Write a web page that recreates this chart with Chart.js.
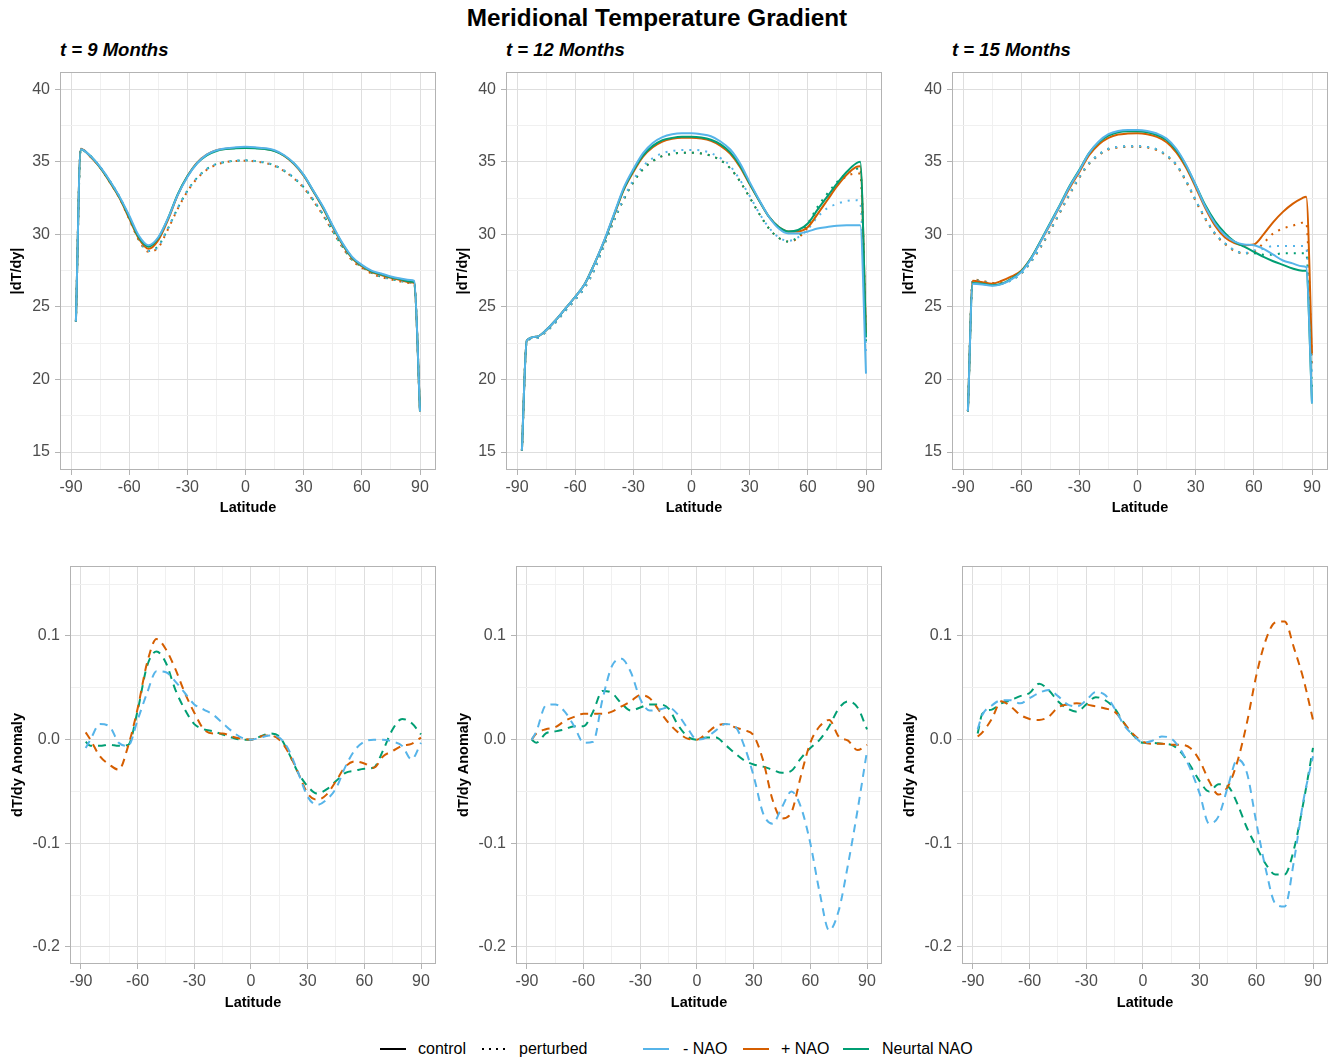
<!DOCTYPE html>
<html>
<head>
<meta charset="utf-8">
<title>Meridional Temperature Gradient</title>
<script src="https://cdn.jsdelivr.net/npm/chart.js@4.4.1/dist/chart.umd.min.js"></script>
<style>
  body { margin: 0; background: #fff; font-family: "Liberation Sans", Arial, Helvetica, sans-serif; }
  #page { position: relative; width: 1338px; height: 1061px; overflow: hidden; }
  canvas { position: absolute; }
  #title { position: absolute; left: 0; top: 0; width: 1314px; height: 36px; line-height: 36px;
           text-align: center; font-weight: bold; font-size: 24.3px; color: #000; }
  .sub { position: absolute; top: 38px; height: 24px; line-height: 24px; font-size: 18.5px;
         font-weight: bold; font-style: italic; color: #000; white-space: nowrap; }
  .key { position: absolute; top: 1044px; }
  .lab { position: absolute; top: 1039px; height: 20px; line-height: 20px; font-size: 16px; color: #000; white-space: nowrap; }
</style>
</head>
<body>
<div id="page">
  <div id="title">Meridional Temperature Gradient</div>
  <div class="sub" style="left:60px">t = 9 Months</div>
  <div class="sub" style="left:506px">t = 12 Months</div>
  <div class="sub" style="left:952px">t = 15 Months</div>

  <canvas id="top9"  width="446" height="470" style="left:0px;   top:60px"></canvas>
  <canvas id="top12" width="446" height="470" style="left:446px; top:60px"></canvas>
  <canvas id="top15" width="446" height="470" style="left:892px; top:60px"></canvas>
  <canvas id="bot9"  width="446" height="495" style="left:0px;   top:530px"></canvas>
  <canvas id="bot12" width="446" height="495" style="left:446px; top:530px"></canvas>
  <canvas id="bot15" width="446" height="495" style="left:892px; top:530px"></canvas>

  <svg class="key" style="left:380px" width="26" height="10"><line x1="0" y1="5" x2="26" y2="5" stroke="#000" stroke-width="2"/></svg>
  <div class="lab" style="left:418px">control</div>
  <svg class="key" style="left:482px" width="26" height="10"><line x1="0" y1="5" x2="26" y2="5" stroke="#000" stroke-width="2" stroke-dasharray="2 5"/></svg>
  <div class="lab" style="left:519px">perturbed</div>
  <svg class="key" style="left:643px" width="26" height="10"><line x1="0" y1="5" x2="26" y2="5" stroke="#56B4E9" stroke-width="2"/></svg>
  <div class="lab" style="left:683px">- NAO</div>
  <svg class="key" style="left:743px" width="26" height="10"><line x1="0" y1="5" x2="26" y2="5" stroke="#D55E00" stroke-width="2"/></svg>
  <div class="lab" style="left:781px">+ NAO</div>
  <svg class="key" style="left:843px" width="26" height="10"><line x1="0" y1="5" x2="26" y2="5" stroke="#009E73" stroke-width="2"/></svg>
  <div class="lab" style="left:882px">Neurtal NAO</div>
</div>

<script>
// latitudes
const latTop = [-87.5, -85, -80, -75, -70, -65, -60, -55, -50, -45, -40, -35, -30, -25, -20, -15, -10, -5, 0,
                5, 10, 15, 20, 25, 30, 35, 40, 45, 50, 55, 60, 65, 70, 75, 80, 85, 87, 90];
const latBottom = [-87.5, -85, -80, -75, -70, -65, -60, -55, -50, -45, -40, -35, -30, -25, -20, -15, -10, -5, 0,
                   5, 10, 15, 20, 25, 30, 35, 40, 45, 50, 55, 60, 65, 70, 75, 80, 85, 90];

// |dT/dy|, t = 9 months
const negCtl9 = [24.0, 35.87, 35.4, 34.65, 33.7, 32.6, 31.3, 29.9, 29.25, 29.8, 31.1, 32.7, 33.96, 34.9, 35.5, 35.8, 35.94, 36.0, 36.03, 36.0, 35.94, 35.8, 35.45, 34.9, 34.1, 33.0, 31.9, 30.6, 29.4, 28.45, 27.9, 27.5, 27.3, 27.1, 26.96, 26.85, 26.8, 17.8];
const posCtl9 = [24.0, 35.9, 35.35, 34.6, 33.6, 32.5, 31.1, 29.7, 29.0, 29.6, 31.0, 32.7, 34.0, 34.95, 35.5, 35.8, 35.9, 35.95, 35.97, 35.95, 35.9, 35.75, 35.4, 34.85, 34.05, 32.95, 31.8, 30.5, 29.3, 28.35, 27.8, 27.4, 27.2, 27.0, 26.85, 26.7, 26.65, 17.8];
const neuCtl9 = [24.0, 35.85, 35.4, 34.62, 33.65, 32.55, 31.2, 29.8, 29.15, 29.75, 31.1, 32.75, 34.0, 34.9, 35.45, 35.75, 35.88, 35.93, 35.95, 35.93, 35.88, 35.75, 35.42, 34.88, 34.08, 32.98, 31.85, 30.55, 29.35, 28.4, 27.85, 27.45, 27.25, 27.05, 26.9, 26.75, 26.7, 17.8];
const negPer9 = [24.0, 35.87, 35.4, 34.65, 33.7, 32.6, 31.2, 29.7, 28.85, 29.15, 30.45, 31.8, 33.0, 33.9, 34.5, 34.85, 35.0, 35.08, 35.1, 35.05, 34.95, 34.75, 34.4, 33.9, 33.3, 32.4, 31.4, 30.3, 29.2, 28.3, 27.8, 27.4, 27.1, 26.95, 26.8, 26.7, 26.65, 17.8];
const posPer9 = [24.0, 35.9, 35.35, 34.6, 33.6, 32.5, 31.05, 29.6, 28.8, 29.1, 30.35, 31.75, 32.95, 33.85, 34.45, 34.8, 34.98, 35.05, 35.08, 35.03, 34.93, 34.72, 34.35, 33.85, 33.2, 32.3, 31.3, 30.2, 29.1, 28.2, 27.7, 27.3, 27.05, 26.9, 26.75, 26.65, 26.6, 17.8];
const neuPer9 = [24.0, 35.85, 35.4, 34.62, 33.65, 32.55, 31.15, 29.65, 28.85, 29.2, 30.4, 31.8, 33.0, 33.9, 34.5, 34.85, 35.0, 35.07, 35.1, 35.05, 34.95, 34.75, 34.38, 33.88, 33.25, 32.35, 31.35, 30.25, 29.15, 28.25, 27.75, 27.35, 27.08, 26.92, 26.78, 26.68, 26.62, 17.8];

// |dT/dy|, t = 12 months
const negCtl12 = [15.1, 22.67, 22.94, 23.4, 24.1, 24.9, 25.7, 26.6, 28.0, 29.6, 31.4, 33.2, 34.5, 35.6, 36.3, 36.7, 36.9, 36.97, 36.97, 36.9, 36.76, 36.4, 35.85, 34.9, 33.6, 32.35, 31.2, 30.4, 30.06, 30.06, 30.2, 30.4, 30.5, 30.6, 30.63, 30.63, 30.63, 20.4];
const posCtl12 = [15.1, 22.67, 22.94, 23.4, 24.1, 24.9, 25.7, 26.6, 28.0, 29.55, 31.3, 33.05, 34.3, 35.35, 36.0, 36.4, 36.58, 36.65, 36.65, 36.6, 36.45, 36.1, 35.55, 34.65, 33.45, 32.3, 31.2, 30.5, 30.2, 30.2, 30.5, 31.4, 32.35, 33.3, 34.1, 34.65, 34.7, 23.2];
const neuCtl12 = [15.1, 22.67, 22.94, 23.4, 24.1, 24.9, 25.7, 26.6, 28.0, 29.55, 31.35, 33.1, 34.4, 35.45, 36.1, 36.5, 36.65, 36.72, 36.72, 36.67, 36.52, 36.2, 35.65, 34.75, 33.5, 32.3, 31.2, 30.5, 30.2, 30.3, 30.75, 31.7, 32.6, 33.5, 34.3, 34.9, 35.0, 22.9];
const negPer12 = [15.1, 22.6, 22.85, 23.3, 23.95, 24.75, 25.5, 26.35, 27.6, 29.3, 31.0, 32.5, 33.75, 34.7, 35.25, 35.6, 35.75, 35.82, 35.82, 35.78, 35.6, 35.25, 34.7, 33.75, 32.65, 31.45, 30.45, 29.8, 29.55, 29.8, 30.35, 31.2, 31.8, 32.1, 32.3, 32.35, 32.2, 21.8];
const posPer12 = [15.1, 22.6, 22.85, 23.3, 23.95, 24.75, 25.5, 26.35, 27.6, 29.3, 30.95, 32.4, 33.6, 34.5, 35.05, 35.4, 35.55, 35.62, 35.62, 35.58, 35.42, 35.1, 34.55, 33.65, 32.55, 31.4, 30.4, 29.75, 29.5, 29.75, 30.5, 31.7, 32.6, 33.4, 34.0, 34.2, 34.2, 23.0];
const neuPer12 = [15.1, 22.6, 22.85, 23.3, 23.95, 24.75, 25.5, 26.35, 27.6, 29.3, 30.95, 32.4, 33.6, 34.5, 35.05, 35.4, 35.55, 35.62, 35.62, 35.58, 35.42, 35.1, 34.55, 33.65, 32.55, 31.4, 30.4, 29.75, 29.5, 29.85, 30.75, 31.9, 32.8, 33.6, 34.2, 34.5, 34.6, 22.5];

// |dT/dy|, t = 15 months
const negCtl15 = [17.8, 26.6, 26.55, 26.45, 26.57, 26.9, 27.4, 28.3, 29.5, 30.75, 32.0, 33.3, 34.4, 35.6, 36.4, 36.9, 37.13, 37.2, 37.2, 37.13, 36.95, 36.6, 35.9, 34.8, 33.4, 31.9, 30.75, 29.95, 29.5, 29.3, 29.25, 29.0, 28.6, 28.2, 28.0, 27.8, 27.75, 18.35];
const posCtl15 = [17.8, 26.8, 26.7, 26.6, 26.8, 27.1, 27.5, 28.35, 29.5, 30.7, 31.95, 33.2, 34.3, 35.45, 36.2, 36.65, 36.88, 36.95, 36.97, 36.9, 36.72, 36.35, 35.65, 34.6, 33.25, 31.8, 30.6, 29.8, 29.4, 29.25, 29.3, 30.0, 30.85, 31.55, 32.1, 32.5, 32.6, 21.8];
const neuCtl15 = [17.8, 26.65, 26.6, 26.5, 26.6, 26.95, 27.45, 28.35, 29.55, 30.8, 32.05, 33.35, 34.45, 35.6, 36.35, 36.8, 37.03, 37.1, 37.1, 37.03, 36.85, 36.5, 35.8, 34.75, 33.4, 32.0, 30.9, 30.1, 29.5, 29.15, 28.8, 28.45, 28.15, 27.9, 27.65, 27.5, 27.5, 18.35];
const negPer15 = [17.8, 26.85, 26.75, 26.6, 26.6, 26.85, 27.3, 28.1, 29.15, 30.3, 31.55, 32.8, 33.96, 34.9, 35.5, 35.9, 36.03, 36.07, 36.07, 36.03, 35.85, 35.45, 34.8, 33.7, 32.35, 31.1, 30.06, 29.4, 28.9, 28.7, 28.9, 29.0, 29.2, 29.2, 29.2, 29.2, 29.1, 20.2];
const posPer15 = [17.8, 26.9, 26.8, 26.65, 26.65, 26.9, 27.3, 28.1, 29.1, 30.25, 31.5, 32.75, 33.9, 34.85, 35.45, 35.85, 35.98, 36.03, 36.03, 35.98, 35.8, 35.4, 34.75, 33.65, 32.3, 31.05, 30.0, 29.35, 28.85, 28.7, 28.8, 29.4, 30.06, 30.4, 30.6, 30.8, 30.8, 21.1];
const neuPer15 = [17.8, 26.85, 26.75, 26.6, 26.6, 26.85, 27.3, 28.1, 29.15, 30.3, 31.55, 32.8, 33.96, 34.9, 35.5, 35.9, 36.03, 36.07, 36.07, 36.03, 35.85, 35.45, 34.8, 33.7, 32.35, 31.1, 30.06, 29.4, 28.9, 28.7, 28.7, 28.6, 28.6, 28.7, 28.7, 28.7, 28.7, 19.3];

// dT/dy anomaly
const negAnom9 = [-0.008, 0.0, 0.015, 0.013, -0.003, -0.006, 0.019, 0.045, 0.066, 0.065, 0.056, 0.045, 0.034, 0.029, 0.024, 0.016, 0.008, 0.002, 0.0, 0.002, 0.004, 0.002, -0.01, -0.032, -0.055, -0.063, -0.058, -0.047, -0.026, -0.01, -0.002, 0.0, 0.0, -0.002, -0.006, -0.019, -0.003];
const posAnom9 = [0.007, 0.0, -0.016, -0.024, -0.029, -0.006, 0.03, 0.074, 0.097, 0.087, 0.068, 0.045, 0.026, 0.01, 0.006, 0.006, 0.003, 0.001, 0.0, 0.003, 0.004, 0.0, -0.013, -0.032, -0.052, -0.058, -0.053, -0.04, -0.026, -0.021, -0.023, -0.027, -0.016, -0.011, -0.006, -0.004, 0.002];
const neuAnom9 = [-0.002, -0.006, -0.006, -0.005, -0.006, -0.005, 0.028, 0.071, 0.085, 0.074, 0.048, 0.029, 0.015, 0.01, 0.008, 0.005, 0.002, 0.0, 0.0, 0.003, 0.006, 0.003, -0.013, -0.032, -0.045, -0.052, -0.048, -0.04, -0.032, -0.03, -0.028, -0.027, -0.01, 0.01, 0.02, 0.016, 0.005];

const negAnom12 = [0.0, 0.008, 0.033, 0.034, 0.027, 0.013, -0.003, -0.002, 0.039, 0.071, 0.078, 0.065, 0.039, 0.028, 0.029, 0.031, 0.024, 0.011, 0.0, 0.002, 0.009, 0.015, 0.013, -0.006, -0.035, -0.071, -0.081, -0.065, -0.05, -0.065, -0.1, -0.148, -0.184, -0.165, -0.12, -0.068, -0.011];
const posAnom12 = [0.0, 0.006, 0.01, 0.012, 0.018, 0.022, 0.025, 0.025, 0.025, 0.027, 0.032, 0.037, 0.043, 0.04, 0.028, 0.016, 0.007, 0.001, 0.0, 0.006, 0.013, 0.015, 0.012, 0.009, 0.004, -0.02, -0.058, -0.076, -0.07, -0.035, -0.003, 0.013, 0.019, 0.003, -0.001, -0.01, -0.005];
const neuAnom12 = [0.0, -0.003, 0.006, 0.008, 0.01, 0.013, 0.013, 0.027, 0.047, 0.045, 0.035, 0.028, 0.031, 0.034, 0.034, 0.03, 0.014, 0.003, 0.0, 0.002, 0.002, -0.005, -0.013, -0.02, -0.024, -0.026, -0.029, -0.032, -0.03, -0.018, -0.008, 0.0, 0.013, 0.03, 0.037, 0.031, 0.01];

const negAnom15 = [0.01, 0.024, 0.033, 0.038, 0.038, 0.035, 0.04, 0.045, 0.048, 0.042, 0.034, 0.032, 0.038, 0.046, 0.043, 0.03, 0.014, 0.004, -0.003, -0.001, 0.003, 0.001, -0.01, -0.028, -0.052, -0.081, -0.074, -0.045, -0.019, -0.032, -0.08, -0.125, -0.158, -0.161, -0.116, -0.058, -0.016];
const posAnom15 = [0.003, 0.007, 0.02, 0.037, 0.032, 0.024, 0.02, 0.019, 0.022, 0.031, 0.034, 0.035, 0.034, 0.032, 0.03, 0.027, 0.016, 0.005, -0.002, -0.004, -0.004, -0.005, -0.005, -0.008, -0.02, -0.04, -0.053, -0.045, -0.021, 0.016, 0.062, 0.096, 0.113, 0.114, 0.088, 0.058, 0.019];
const neuAnom15 = [0.006, 0.025, 0.029, 0.035, 0.038, 0.042, 0.045, 0.054, 0.048, 0.037, 0.03, 0.027, 0.034, 0.041, 0.038, 0.03, 0.016, 0.004, -0.003, -0.003, -0.004, -0.005, -0.012, -0.025, -0.04, -0.05, -0.043, -0.045, -0.062, -0.085, -0.103, -0.12, -0.13, -0.13, -0.105, -0.06, -0.008];

const NEG = "#56B4E9", POS = "#D55E00", NEU = "#009E73";

document.addEventListener("DOMContentLoaded", function () {
    Chart.defaults.font.family = '"Liberation Sans", Arial, Helvetica, sans-serif';

    // grey frame round each panel, like ggplot's theme_light
    const panelBorder = {
        id: "panelBorder",
        afterDraw(chart) {
            const a = chart.chartArea, c = chart.ctx;
            c.save();
            c.strokeStyle = "#B3B3B3";
            c.lineWidth = 1;
            c.strokeRect(Math.round(a.left) + 0.5, Math.round(a.top) + 0.5,
                         Math.round(a.right - a.left) - 1, Math.round(a.bottom - a.top) - 1);
            c.restore();
        }
    };

    function onStep(v, step) {
        const r = v / step;
        return Math.abs(r - Math.round(r)) < 1e-6;
    }

    function line(lat, values, color, style, order) {
        return {
            data: lat.map((x, i) => ({ x: x, y: values[i] })),
            borderColor: color,
            borderWidth: 2,
            borderDash: style === "dotted" ? [2, 6] : style === "dashed" ? [8, 6] : [],
            pointRadius: 0,
            fill: false,
            cubicInterpolationMode: "monotone",
            order: order
        };
    }

    function makePanel(id, datasets, row) {
        const ctx = document.getElementById(id).getContext("2d");
        new Chart(ctx, {
            type: "line",
            data: { datasets: datasets },
            options: {
                responsive: false,
                animation: false,
                devicePixelRatio: 1,
                layout: { padding: { top: row.padTop, right: 10, left: 0, bottom: 0 } },
                plugins: { legend: { display: false }, tooltip: { enabled: false } },
                scales: {
                    x: {
                        type: "linear",
                        min: row.xMin, max: row.xMax,
                        afterFit: s => { s.height = row.xHeight; s.paddingLeft = 0; s.paddingRight = 0; },
                        border: { display: false },
                        grid: {
                            color: c => onStep(c.tick.value, 30) ? "#DEDEDE" : "#F0F0F0",
                            tickColor: c => onStep(c.tick.value, 30) ? "#B3B3B3" : "rgba(0,0,0,0)",
                            tickLength: 5
                        },
                        ticks: {
                            stepSize: 15, includeBounds: false, autoSkip: false, maxRotation: 0,
                            maxTicksLimit: 100, padding: 3, color: "#4D4D4D", font: { size: 16 },
                            callback: v => onStep(v, 30) ? String(v) : ""
                        },
                        title: {
                            display: true, text: "Latitude", color: "#000",
                            font: { size: 14.5, weight: "bold" }, padding: { top: 0, bottom: 13 }
                        }
                    },
                    y: {
                        type: "linear",
                        min: row.yMin, max: row.yMax,
                        afterFit: s => { s.width = row.yWidth; s.paddingTop = 0; s.paddingBottom = 0; },
                        border: { display: false },
                        grid: {
                            color: c => onStep(c.tick.value, row.yMajor) ? "#DEDEDE" : "#F0F0F0",
                            tickColor: c => onStep(c.tick.value, row.yMajor) ? "#B3B3B3" : "rgba(0,0,0,0)",
                            tickLength: 5
                        },
                        ticks: {
                            stepSize: row.yMajor / 2, includeBounds: false, autoSkip: false,
                            maxTicksLimit: 100, padding: 5, color: "#4D4D4D", font: { size: 16 },
                            callback: v => onStep(v, row.yMajor) ? row.fmt(v) : ""
                        },
                        title: {
                            display: true, text: row.yTitle, color: "#000",
                            font: { size: 14.5, weight: "bold" }, padding: { top: row.yTitlePad, bottom: 0 }
                        }
                    }
                }
            },
            plugins: [panelBorder]
        });
    }

    const topRow = {
        padTop: 12, xHeight: 60, yWidth: 60, yTitlePad: 8,
        xMin: -95.7, xMax: 98.25, yMin: 13.76, yMax: 41.19, yMajor: 5,
        yTitle: "|dT/dy|", fmt: v => String(Math.round(v))
    };
    const bottomRow = {
        padTop: 36, xHeight: 61, yWidth: 70, yTitlePad: 9,
        xMin: -95.8, xMax: 97.94, yMin: -0.2164, yMax: 0.1675, yMajor: 0.1,
        yTitle: "dT/dy Anomaly", fmt: v => (Math.round(v * 10) / 10).toFixed(1)
    };

    function topSet(nc, pc, uc, np, pp, up) {
        return [
            line(latTop, nc, NEG, "solid", 0),
            line(latTop, uc, NEU, "solid", 1),
            line(latTop, pc, POS, "solid", 2),
            line(latTop, np, NEG, "dotted", 3),
            line(latTop, up, NEU, "dotted", 4),
            line(latTop, pp, POS, "dotted", 5)
        ];
    }

    function bottomSet(n, p, u) {
        return [
            line(latBottom, n, NEG, "dashed", 0),
            line(latBottom, p, POS, "dashed", 1),
            line(latBottom, u, NEU, "dashed", 2)
        ];
    }

    makePanel("top9", topSet(negCtl9, posCtl9, neuCtl9, negPer9, posPer9, neuPer9), topRow);
    makePanel("top12", topSet(negCtl12, posCtl12, neuCtl12, negPer12, posPer12, neuPer12), topRow);
    makePanel("top15", topSet(negCtl15, posCtl15, neuCtl15, negPer15, posPer15, neuPer15), topRow);
    makePanel("bot9", bottomSet(negAnom9, posAnom9, neuAnom9), bottomRow);
    makePanel("bot12", bottomSet(negAnom12, posAnom12, neuAnom12), bottomRow);
    makePanel("bot15", bottomSet(negAnom15, posAnom15, neuAnom15), bottomRow);
});
</script>
</body>
</html>
